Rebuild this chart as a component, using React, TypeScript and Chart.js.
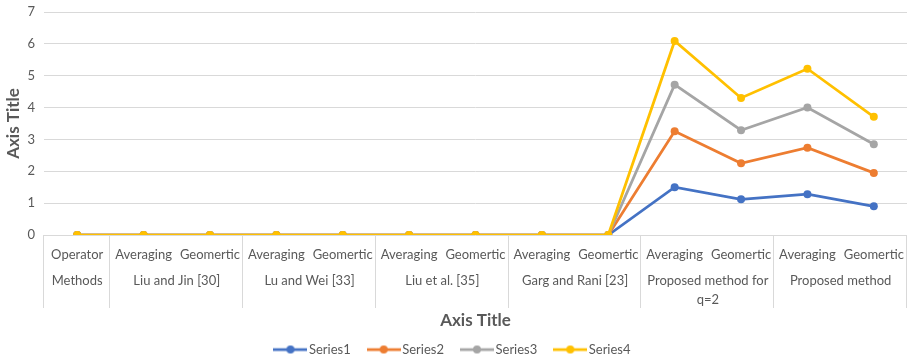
import React, { useEffect, useRef } from 'react';
import { Chart, registerables } from 'chart.js';

Chart.register(...registerables);

const categories = [
  'Operator',
  'Averaging', 'Geomertic',
  'Averaging', 'Geomertic',
  'Averaging', 'Geomertic',
  'Averaging', 'Geomertic',
  'Averaging', 'Geomertic',
  'Averaging', 'Geomertic',
];
const groupLabels: string[][] = [
  ['Methods'],
  ['Liu and Jin [30]'],
  ['Lu and Wei [33]'],
  ['Liu et al. [35]'],
  ['Garg and Rani [23]'],
  ['Proposed method for', 'q=2'],
  ['Proposed method'],
];
const groupSpans = [1, 2, 2, 2, 2, 2, 2];

const series1 = [0, 0, 0, 0, 0, 0, 0, 0, 0, 1.5, 1.12, 1.28, 0.9];
const series2 = [0, 0, 0, 0, 0, 0, 0, 0, 0, 3.26, 2.25, 2.74, 1.95];
const series3 = [0, 0, 0, 0, 0, 0, 0, 0, 0, 4.72, 3.29, 4.0, 2.85];
const series4 = [0, 0, 0, 0, 0, 0, 0, 0, 0, 6.09, 4.3, 5.22, 3.71];
const seriesNames = ['Series1', 'Series2', 'Series3', 'Series4'];
const seriesColors = ['#4472C4', '#ED7D31', '#A5A5A5', '#FFC000'];
const yMin = 0;
const yMax = 7;
const yStep = 1;
const axisTitleX = 'Axis Title';
const axisTitleY = 'Axis Title';

const FONT = 'Lato';
const TEXT = '#595959';
const GRID = '#d9d9d9';

function makeMarker(color: string) {
  const c = document.createElement('canvas');
  c.width = 34;
  c.height = 10;
  const ctx = c.getContext('2d')!;
  ctx.strokeStyle = color;
  ctx.lineWidth = 2.75;
  ctx.beginPath();
  ctx.moveTo(0, 5);
  ctx.lineTo(34, 5);
  ctx.stroke();
  ctx.fillStyle = color;
  ctx.beginPath();
  ctx.arc(17, 5, 4, 0, Math.PI * 2);
  ctx.fill();
  return c;
}

const groupPlugin = {
  id: 'groupLabels',
  afterDraw(chart: any) {
    const x = chart.scales.x;
    const ctx = chart.ctx;
    const bottom = chart.chartArea.bottom;
    const n = categories.length;
    const w = (x.right - x.left) / n;
    ctx.save();
    ctx.strokeStyle = GRID;
    ctx.lineWidth = 1;
    let idx = 0;
    const bounds = [0];
    groupSpans.forEach((s) => {
      idx += s;
      bounds.push(idx);
    });
    bounds.forEach((b) => {
      const px = Math.round(x.left + b * w) - 0.5;
      ctx.beginPath();
      ctx.moveTo(px, bottom);
      ctx.lineTo(px, bottom + 73);
      ctx.stroke();
    });
    ctx.fillStyle = TEXT;
    ctx.font = `13px ${FONT}`;
    ctx.textAlign = 'center';
    ctx.textBaseline = 'middle';
    idx = 0;
    groupSpans.forEach((s, gi) => {
      const cx = x.left + (idx + s / 2) * w;
      groupLabels[gi].forEach((line, li) => {
        ctx.fillText(line, cx, bottom + 46 + li * 19);
      });
      idx += s;
    });
    ctx.restore();
  },
};

export default function App() {
  const ref = useRef<HTMLCanvasElement>(null);
  useEffect(() => {
    if (!ref.current) return;
    const data = [series1, series2, series3, series4];
    const markers = seriesColors.map((c) => makeMarker(c));
    const chart = new Chart(ref.current, {
      type: 'line',
      data: {
        labels: categories,
        datasets: data.map((d, i) => ({
          label: seriesNames[i],
          data: d,
          borderColor: seriesColors[i],
          backgroundColor: seriesColors[i],
          borderWidth: 2.75,
          pointRadius: 4,
          pointBorderWidth: 0,
          pointBackgroundColor: seriesColors[i],
          tension: 0,
          order: 4 - i,
        })),
      },
      options: {
        responsive: false,
        animation: false,
        layout: { padding: { left: 0, right: 2, top: 12, bottom: -7 } },
        plugins: {
          tooltip: { enabled: false },
          legend: {
            position: 'bottom',
            labels: {
              usePointStyle: true,
              pointStyleWidth: 24,
              boxHeight: 10,
              padding: 21,
              color: TEXT,
              font: { family: FONT, size: 13 },
              sort: (a: any, b: any) => a.datasetIndex - b.datasetIndex,
              generateLabels: (chart: any) => {
                const items = Chart.defaults.plugins.legend.labels.generateLabels(chart);
                return items.map((it: any) => ({ ...it, pointStyle: markers[it.datasetIndex] }));
              },
            },
          },
        },
        scales: {
          x: {
            offset: true,
            grid: { display: false },
            border: { display: false },
            ticks: {
              color: TEXT,
              font: { family: FONT, size: 13 },
              padding: 4,
              maxRotation: 0,
              autoSkip: false,
            },
            title: {
              display: true,
              text: axisTitleX,
              color: TEXT,
              font: { family: FONT, size: 17, weight: 'bold' },
              padding: { top: 0, bottom: -9 },
            },
            afterFit: (s: any) => {
              s.height = 87;
            },
          },
          y: {
            min: yMin,
            max: yMax,
            grid: { color: GRID, drawTicks: false },
            border: { display: false },
            ticks: {
              stepSize: yStep,
              color: TEXT,
              font: { family: FONT, size: 13 },
              padding: 9,
            },
            title: {
              display: true,
              text: axisTitleY,
              color: TEXT,
              font: { family: FONT, size: 17, weight: 'bold' },
              padding: { top: 3, bottom: 0 },
            },
            afterFit: (s: any) => {
              s.width = 44;
              s.paddingTop = 0;
              s.paddingBottom = 0;
            },
          },
        },
      },
      plugins: [groupPlugin],
    } as any);
    return () => chart.destroy();
  }, []);
  return (
    <div style={{ position: 'fixed', left: 0, top: 0, width: 911, height: 359, background: '#fff' }}>
      <canvas ref={ref} width={911} height={359} />
    </div>
  );
}
